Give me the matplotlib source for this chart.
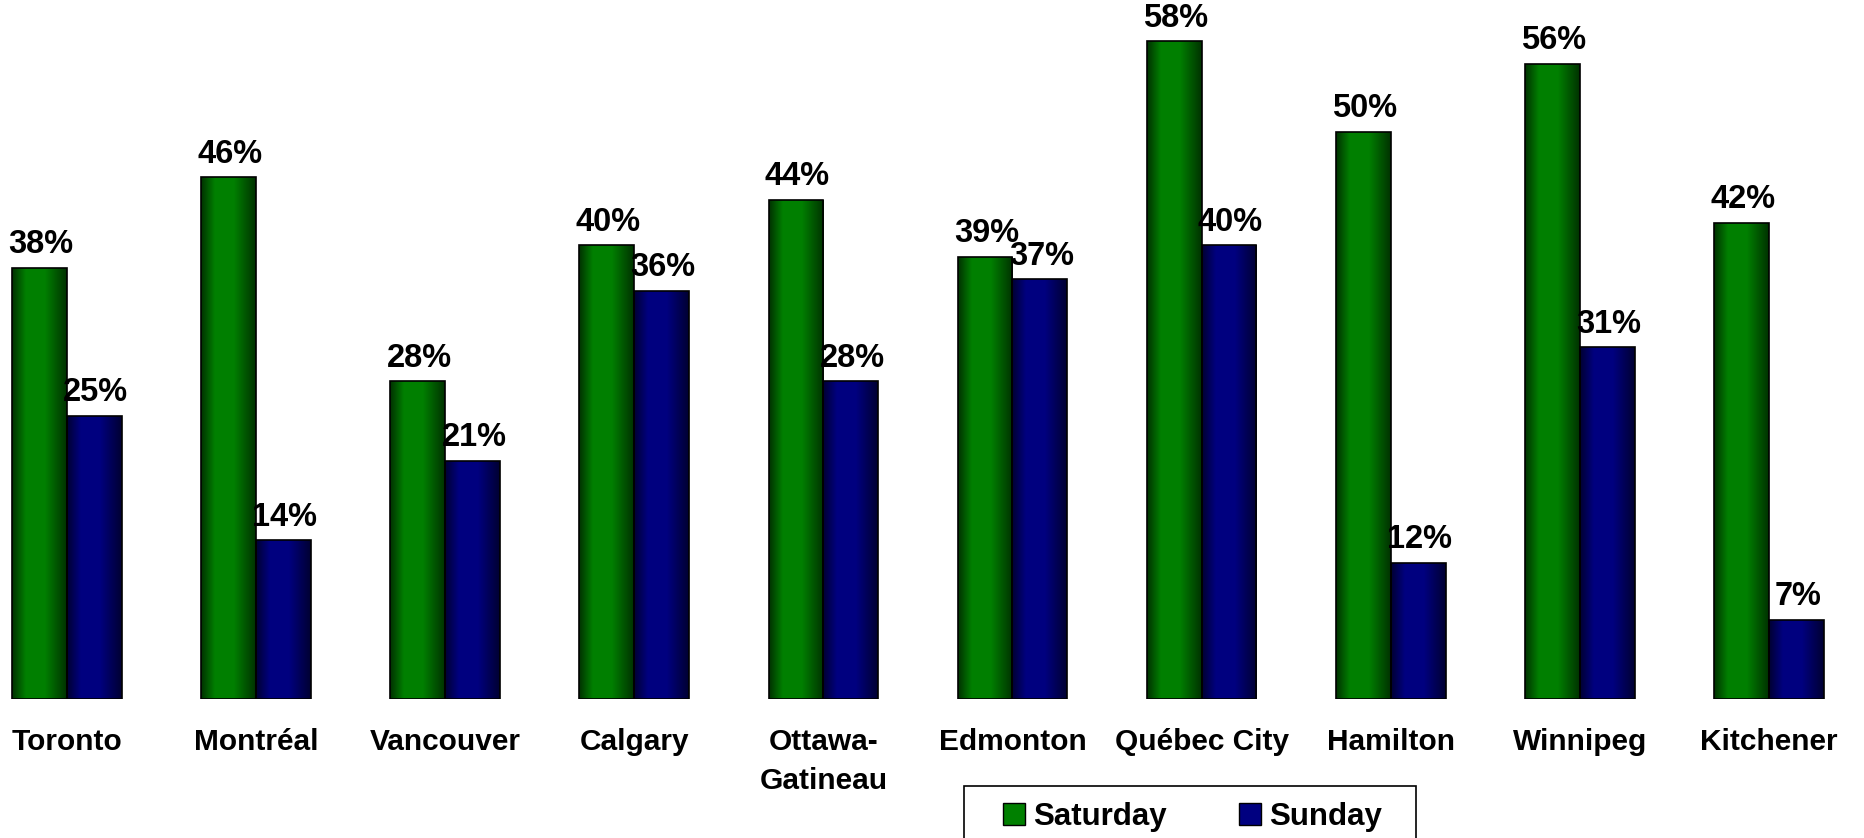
import numpy as np
import matplotlib
matplotlib.use("Agg")
import matplotlib.pyplot as plt
from matplotlib.patches import Patch, Rectangle

CITIES = ["Toronto", "Montréal", "Vancouver", "Calgary", "Ottawa-\nGatineau",
          "Edmonton", "Québec City", "Hamilton", "Winnipeg", "Kitchener"]
SATURDAY = [38, 46, 28, 40, 44, 39, 58, 50, 56, 42]
SUNDAY = [25, 14, 21, 36, 28, 37, 40, 12, 31, 7]
SERIES_NAMES = ["Saturday", "Sunday"]

GREEN = (0.0, 0.5, 0.0)
BLUE = (0.0, 0.0, 0.5)

plt.rcParams["font.family"] = ["Liberation Sans", "DejaVu Sans"]
plt.rcParams["font.weight"] = "bold"


def shade(color):
    # horizontal cylinder-like shading, dark edges, bright middle
    t = np.linspace(0, 1, 64)
    k = np.interp(t, [0, 0.25, 0.6, 1], [0.4, 1.0, 1.0, 0.4])
    img = np.ones((2, 64, 3))
    for c in range(3):
        img[:, :, c] = color[c] * k
    return img


def shaded_bars(ax, x, values, color):
    bars = ax.bar(x, values, width=0.29, facecolor="none",
                  edgecolor="black", linewidth=1.2, zorder=3)
    img = shade(color)
    for b in bars:
        x0, y0 = b.get_x(), b.get_y()
        im = ax.imshow(img, extent=[x0, x0 + b.get_width(), y0, y0 + b.get_height()],
                       aspect="auto", zorder=2, interpolation="bilinear")
        im.set_clip_path(b)
    return bars


fig = plt.figure(figsize=(18.64, 8.38), dpi=100)
ax = fig.add_axes([0, 139 / 838, 1, 60 * 11.34 / 838])

x = np.arange(len(CITIES))
sat = shaded_bars(ax, x - 0.145, SATURDAY, GREEN)
sun = shaded_bars(ax, x + 0.145, SUNDAY, BLUE)

for bars, vals in ((sat, SATURDAY), (sun, SUNDAY)):
    for b, v in zip(bars, vals):
        ax.annotate(f"{v}%", (b.get_x() + b.get_width() / 2, v),
                    xytext=(1, 5.5), textcoords="offset points",
                    ha="center", va="bottom", fontsize=23.5, fontweight="bold")

ax.set_xlim(-0.354, 9.503)
ax.set_ylim(0, 60)
ax.set_xticks(x)
ax.set_xticklabels(CITIES, fontsize=21.5, fontweight="bold")
for lab in ax.get_xticklabels():
    lab.set_linespacing(1.5)
ax.tick_params(axis="x", length=0, pad=21)
ax.set_yticks([])
for s in ax.spines.values():
    s.set_visible(False)

# legend box runs off the bottom of the picture
fig.patches.append(Rectangle((964 / 1864, -0.05), 452 / 1864, (838 - 786) / 838 + 0.05,
                             transform=fig.transFigure, facecolor="white",
                             edgecolor="black", linewidth=1.2, zorder=5))
handles = [Patch(facecolor=GREEN, edgecolor="black", linewidth=1.0),
           Patch(facecolor=BLUE, edgecolor="black", linewidth=1.0)]
leg = fig.legend(handles, SERIES_NAMES, loc="center left",
                 bbox_to_anchor=(1003 / 1864, 1 - 817 / 838), ncol=2,
                 frameon=False, borderpad=0, borderaxespad=0,
                 handlelength=0.72, handleheight=0.72, handletextpad=0.25,
                 columnspacing=2.3, prop={"size": 22.5, "weight": "bold"})
leg.set_zorder(6)

fig.savefig("out.png", dpi=100)
